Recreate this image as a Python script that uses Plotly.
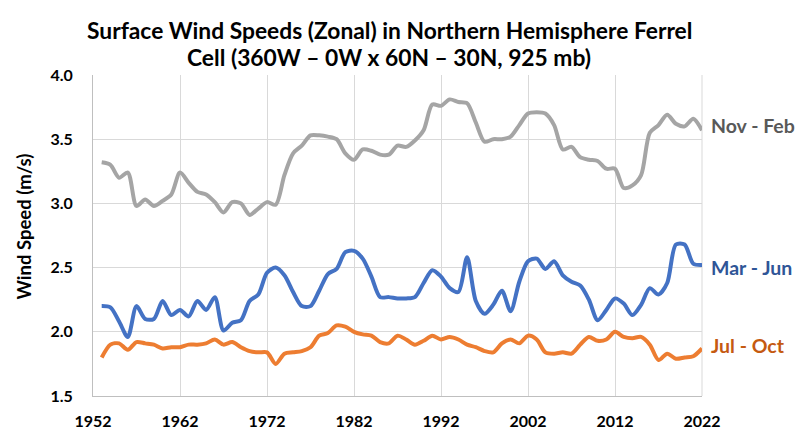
import plotly.graph_objects as go

years = list(range(1953, 2023))

nov_feb = [3.32, 3.30, 3.20, 3.24, 2.98, 3.03, 2.98, 3.02, 3.07, 3.24,
           3.16, 3.09, 3.07, 3.01, 2.93, 3.01, 3.00, 2.91, 2.96, 3.01,
           2.99, 3.22, 3.39, 3.45, 3.53, 3.53, 3.52, 3.50, 3.39, 3.34,
           3.42, 3.41, 3.38, 3.38, 3.45, 3.44, 3.49, 3.57, 3.77, 3.76,
           3.81, 3.79, 3.78, 3.63, 3.48, 3.50, 3.50, 3.52, 3.61, 3.70,
           3.71, 3.70, 3.61, 3.42, 3.44, 3.36, 3.34, 3.33, 3.27, 3.27,
           3.12, 3.14, 3.22, 3.55, 3.61, 3.69, 3.62, 3.60, 3.66, 3.57]

mar_jun = [2.20, 2.19, 2.08, 1.96, 2.20, 2.10, 2.10, 2.24, 2.13, 2.17,
           2.12, 2.24, 2.17, 2.27, 2.01, 2.07, 2.09, 2.24, 2.29, 2.46,
           2.50, 2.44, 2.31, 2.20, 2.20, 2.32, 2.45, 2.49, 2.62, 2.63,
           2.57, 2.43, 2.27, 2.27, 2.26, 2.26, 2.27, 2.38, 2.48, 2.43,
           2.34, 2.31, 2.58, 2.24, 2.14, 2.21, 2.32, 2.16, 2.39, 2.55,
           2.57, 2.49, 2.55, 2.44, 2.39, 2.36, 2.25, 2.09, 2.17, 2.26,
           2.22, 2.13, 2.21, 2.34, 2.29, 2.38, 2.68, 2.68, 2.53, 2.52]

jul_oct = [1.80, 1.90, 1.91, 1.86, 1.92, 1.91, 1.90, 1.87, 1.88, 1.88,
           1.90, 1.90, 1.91, 1.94, 1.90, 1.92, 1.88, 1.85, 1.84, 1.84,
           1.75, 1.83, 1.84, 1.85, 1.88, 1.97, 1.99, 2.05, 2.04, 2.00,
           1.98, 1.97, 1.92, 1.91, 1.97, 1.94, 1.90, 1.93, 1.97, 1.94,
           1.96, 1.94, 1.90, 1.88, 1.85, 1.84, 1.91, 1.94, 1.91, 1.97,
           1.94, 1.84, 1.83, 1.84, 1.83, 1.90, 1.96, 1.93, 1.94, 2.00,
           1.96, 1.95, 1.96, 1.90, 1.78, 1.83, 1.79, 1.80, 1.81, 1.87]

series = [
    ("Nov - Feb", nov_feb, "#A5A5A5", "#595959", 5),
    ("Mar - Jun", mar_jun, "#4472C4", "#2F5597", -2),
    ("Jul - Oct", jul_oct, "#ED7D31", "#C55A11", 3),
]

x_ticks = [1952, 1962, 1972, 1982, 1992, 2002, 2012, 2022]
y_ticks = [1.5, 2.0, 2.5, 3.0, 3.5, 4.0]

title_lines = ["Surface Wind Speeds (Zonal) in Northern Hemisphere Ferrel",
               "Cell (360W – 0W x 60N – 30N, 925 mb)"]
y_title = "Wind Speed (m/s)"

FONT = "Lato"
L, R, T, B = 93, 702, 75, 396
PW, PH = R - L, B - T

fig = go.Figure()
for name, vals, color, lcolor, ys in series:
    fig.add_trace(go.Scatter(
        x=years, y=vals, mode="lines", name=name,
        line=dict(color=color, width=4, shape="spline", smoothing=0.8),
        showlegend=False, hoverinfo="skip"))
    fig.add_annotation(
        x=1, xref="paper", xanchor="left", xshift=7,
        y=vals[-1], yref="y", yanchor="middle", yshift=ys,
        text=f"<b>{name}</b>", showarrow=False,
        font=dict(family=FONT, size=19.5, color=lcolor))

for i, line in enumerate(title_lines):
    fig.add_annotation(
        x=(389 - L) / PW, xref="paper", xanchor="center",
        y=1 + (T - (30 + 27 * i)) / PH, yref="paper", yanchor="middle",
        text=f"<b>{line}</b>", showarrow=False,
        font=dict(family=FONT, size=22.8, color="black"))

fig.add_annotation(
    x=(23 - L) / PW, xref="paper", xanchor="center",
    y=1 - (226.5 - T) / PH, yref="paper", yanchor="middle", textangle=-90,
    text=f"<b>{y_title}</b>", showarrow=False,
    font=dict(family=FONT, size=18.5, color="black"))

fig.update_layout(
    width=806, height=441,
    margin=dict(l=L, r=806 - R, t=T, b=441 - B, autoexpand=False),
    paper_bgcolor="white", plot_bgcolor="white",
    font=dict(family=FONT, color="black"),
)
fig.update_xaxes(
    range=[1952, 2022], tickvals=x_ticks,
    ticktext=[f"<b>{t}</b>" for t in x_ticks],
    showgrid=True, gridcolor="#D9D9D9", gridwidth=1,
    showline=True, linecolor="#BFBFBF", linewidth=1,
    zeroline=False, ticks="", automargin=False, ticklabelstandoff=11,
    tickfont=dict(family=FONT, size=16, color="black"))
fig.update_yaxes(
    range=[1.5, 4.0], tickvals=y_ticks,
    ticktext=[f"<b>{t:.1f}</b>" for t in y_ticks],
    showgrid=True, gridcolor="#D9D9D9", gridwidth=1,
    showline=True, linecolor="#BFBFBF", linewidth=1,
    zeroline=False, ticks="", automargin=False, ticklabelstandoff=16,
    tickfont=dict(family=FONT, size=16, color="black"))

fig.add_shape(type="line", xref="paper", yref="paper", x0=1, x1=1, y0=0, y1=1,
              line=dict(color="#D9D9D9", width=1), layer="below")

fig.write_html("out.html", config={"displayModeBar": False},
               post_script="document.body.style.margin='0';document.body.style.padding='0';")
